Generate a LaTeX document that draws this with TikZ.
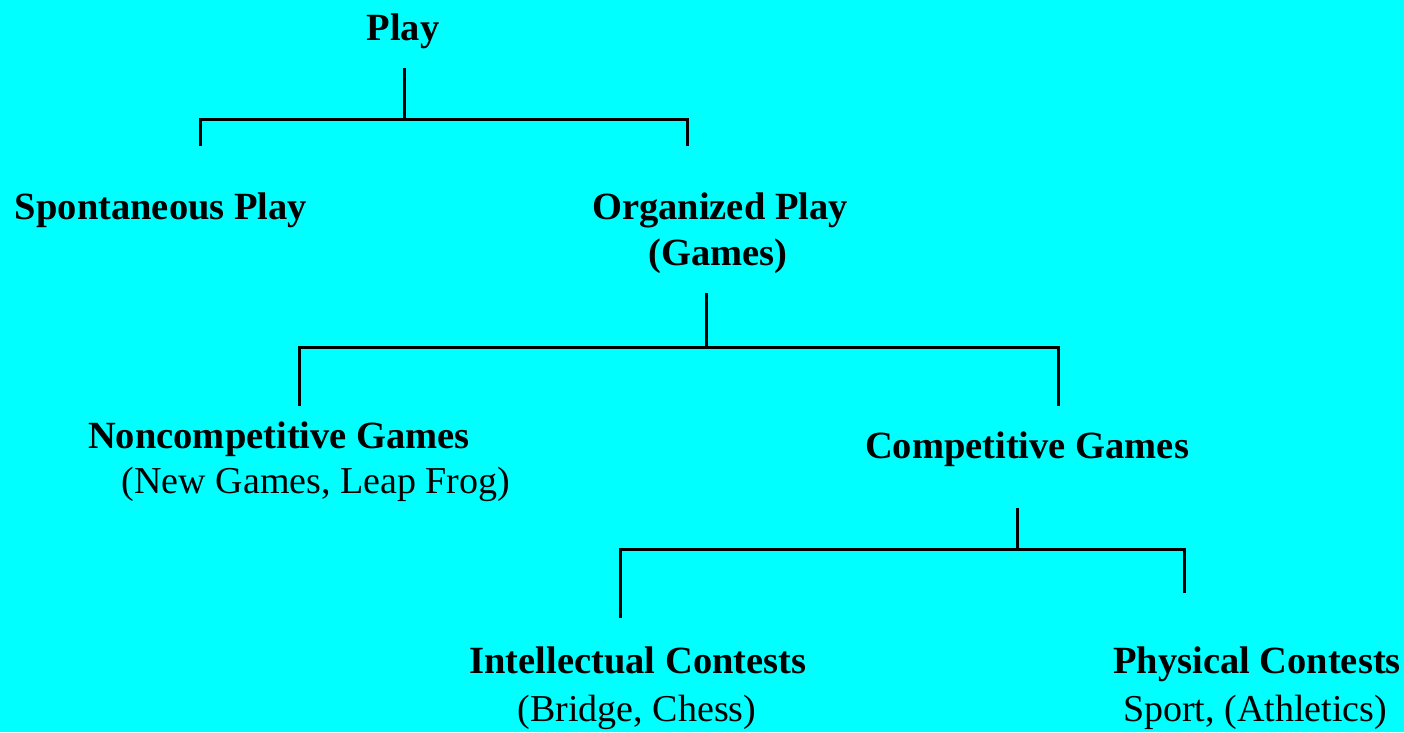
\documentclass[tikz,border=0pt]{standalone}
\usepackage{fontspec}
\setmainfont{Liberation Serif}
\definecolor{bgcyan}{RGB}{0,255,255}
\begin{document}
\begin{tikzpicture}[x=1pt,y=-1pt,
  lbl/.style={anchor=base,inner sep=0pt,font=\fontsize{38.5}{44}\selectfont\bfseries},
  sub/.style={anchor=base,inner sep=0pt,font=\fontsize{38}{44}\selectfont},
  tree/.style={line width=3pt,line cap=rect}]
\fill[bgcyan] (0,0) rectangle (1404,732);
\useasboundingbox (0,0) rectangle (1404,732);
% text
\node[lbl] (play) at (403,40) {Play};
\node[lbl] (spont) at (161,219) {Spontaneous Play};
\node[lbl] (org) at (720,219) {Organized Play};
\node[lbl] (games) at (718,265) {(Games)};
\node[lbl] (noncomp) at (279,448) {Noncompetitive Games};
\node[sub] (noncompsub) at (316,493) {(New Games, Leap Frog)};
\node[lbl] (comp) at (1027,458) {Competitive Games};
\node[lbl] (intel) at (638,673) {Intellectual Contests};
\node[sub] (intelsub) at (637,721) {(Bridge, Chess)};
\node[lbl] (phys) at (1257,673) {Physical Contests};
\node[sub] (physsub) at (1255,721) {Sport, (Athletics)};
% junction coordinates
\coordinate (a0) at (404,69);
\coordinate (a1) at (404,119);
\coordinate (aL) at (200,119);
\coordinate (aLd) at (200,144);
\coordinate (aR) at (687,119);
\coordinate (aRd) at (687,144);
\coordinate (b0) at (706,294);
\coordinate (b1) at (706,347);
\coordinate (bL) at (299,347);
\coordinate (bLd) at (299,404);
\coordinate (bR) at (1058,347);
\coordinate (bRd) at (1058,404);
\coordinate (c0) at (1017,509);
\coordinate (c1) at (1017,549);
\coordinate (cL) at (620,549);
\coordinate (cLd) at (620,616);
\coordinate (cR) at (1184,549);
\coordinate (cRd) at (1184,591);
\draw[tree] (a0) -- (a1);
\draw[tree] (aLd) -- (aL) -- (aR) -- (aRd);
\draw[tree] (b0) -- (b1);
\draw[tree] (bLd) -- (bL) -- (bR) -- (bRd);
\draw[tree] (c0) -- (c1);
\draw[tree] (cLd) -- (cL) -- (cR) -- (cRd);
\end{tikzpicture}
\end{document}
